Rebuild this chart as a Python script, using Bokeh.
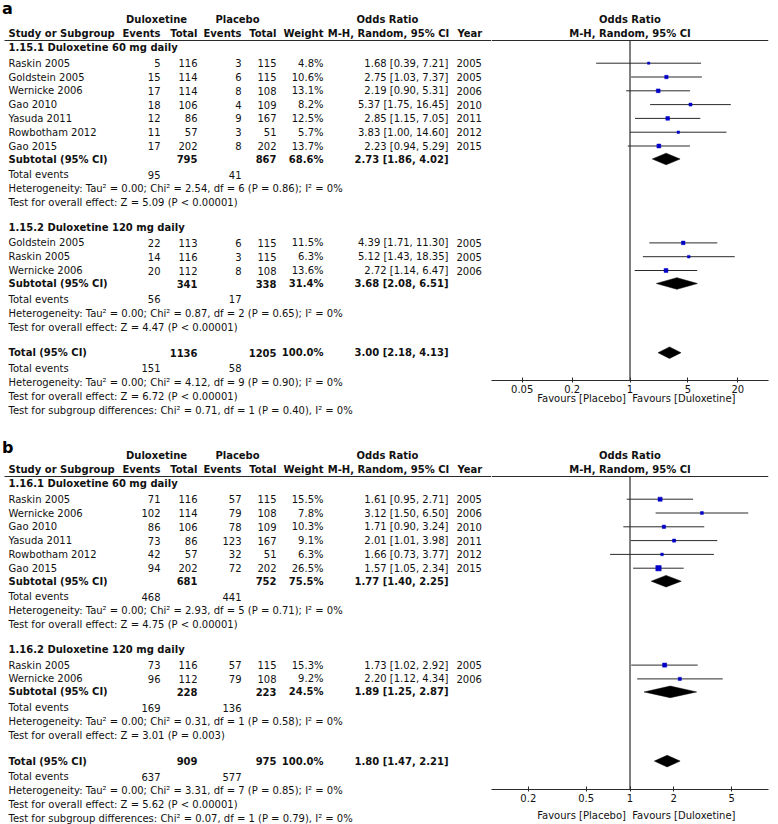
import math
from bokeh.plotting import figure
from bokeh.models import Range1d, ColumnDataSource, FixedTicker, Span
from bokeh.layouts import column, row
from bokeh.core.properties import value
from bokeh.embed import file_html
from bokeh.resources import INLINE

# ---------------- data: panel a ----------------
A1_TITLE = "1.15.1 Duloxetine 60 mg daily"
A1_STUDY = ["Raskin 2005", "Goldstein 2005", "Wernicke 2006", "Gao 2010", "Yasuda 2011", "Rowbotham 2012", "Gao 2015"]
A1_DUL_EV = [5, 15, 17, 18, 12, 11, 17]
A1_DUL_N = [116, 114, 114, 106, 86, 57, 202]
A1_PLA_EV = [3, 6, 8, 4, 9, 3, 8]
A1_PLA_N = [115, 115, 108, 109, 167, 51, 202]
A1_WEIGHT = [4.8, 10.6, 13.1, 8.2, 12.5, 5.7, 13.7]
A1_OR = [1.68, 2.75, 2.19, 5.37, 2.85, 3.83, 2.23]
A1_LO = [0.39, 1.03, 0.90, 1.75, 1.15, 1.00, 0.94]
A1_HI = [7.21, 7.37, 5.31, 16.45, 7.05, 14.60, 5.29]
A1_YEAR = [2005, 2005, 2006, 2010, 2011, 2012, 2015]
A1_SUB_N = [795, 867]
A1_SUB_WEIGHT = 68.6
A1_SUB_OR = [2.73, 1.86, 4.02]
A1_EVENTS = [95, 41]
A1_HET = "Heterogeneity: Tau² = 0.00; Chi² = 2.54, df = 6 (P = 0.86); I² = 0%"
A1_TEST = "Test for overall effect: Z = 5.09 (P < 0.00001)"

A2_TITLE = "1.15.2 Duloxetine 120 mg daily"
A2_STUDY = ["Goldstein 2005", "Raskin 2005", "Wernicke 2006"]
A2_DUL_EV = [22, 14, 20]
A2_DUL_N = [113, 116, 112]
A2_PLA_EV = [6, 3, 8]
A2_PLA_N = [115, 115, 108]
A2_WEIGHT = [11.5, 6.3, 13.6]
A2_OR = [4.39, 5.12, 2.72]
A2_LO = [1.71, 1.43, 1.14]
A2_HI = [11.30, 18.35, 6.47]
A2_YEAR = [2005, 2005, 2006]
A2_SUB_N = [341, 338]
A2_SUB_WEIGHT = 31.4
A2_SUB_OR = [3.68, 2.08, 6.51]
A2_EVENTS = [56, 17]
A2_HET = "Heterogeneity: Tau² = 0.00; Chi² = 0.87, df = 2 (P = 0.65); I² = 0%"
A2_TEST = "Test for overall effect: Z = 4.47 (P < 0.00001)"

A_TOT_N = [1136, 1205]
A_TOT_WEIGHT = 100.0
A_TOT_OR = [3.00, 2.18, 4.13]
A_TOT_EVENTS = [151, 58]
A_TOT_HET = "Heterogeneity: Tau² = 0.00; Chi² = 4.12, df = 9 (P = 0.90); I² = 0%"
A_TOT_TEST = "Test for overall effect: Z = 6.72 (P < 0.00001)"
A_SUBGROUP = "Test for subgroup differences: Chi² = 0.71, df = 1 (P = 0.40), I² = 0%"
A_TICKS = [0.05, 0.2, 1, 5, 20]
A_TICK_LABELS = ["0.05", "0.2", "1", "5", "20"]

# ---------------- data: panel b ----------------
B1_TITLE = "1.16.1 Duloxetine 60 mg daily"
B1_STUDY = ["Raskin 2005", "Wernicke 2006", "Gao 2010", "Yasuda 2011", "Rowbotham 2012", "Gao 2015"]
B1_DUL_EV = [71, 102, 86, 73, 42, 94]
B1_DUL_N = [116, 114, 106, 86, 57, 202]
B1_PLA_EV = [57, 79, 78, 123, 32, 72]
B1_PLA_N = [115, 108, 109, 167, 51, 202]
B1_WEIGHT = [15.5, 7.8, 10.3, 9.1, 6.3, 26.5]
B1_OR = [1.61, 3.12, 1.71, 2.01, 1.66, 1.57]
B1_LO = [0.95, 1.50, 0.90, 1.01, 0.73, 1.05]
B1_HI = [2.71, 6.50, 3.24, 3.98, 3.77, 2.34]
B1_YEAR = [2005, 2006, 2010, 2011, 2012, 2015]
B1_SUB_N = [681, 752]
B1_SUB_WEIGHT = 75.5
B1_SUB_OR = [1.77, 1.40, 2.25]
B1_EVENTS = [468, 441]
B1_HET = "Heterogeneity: Tau² = 0.00; Chi² = 2.93, df = 5 (P = 0.71); I² = 0%"
B1_TEST = "Test for overall effect: Z = 4.75 (P < 0.00001)"

B2_TITLE = "1.16.2 Duloxetine 120 mg daily"
B2_STUDY = ["Raskin 2005", "Wernicke 2006"]
B2_DUL_EV = [73, 96]
B2_DUL_N = [116, 112]
B2_PLA_EV = [57, 79]
B2_PLA_N = [115, 108]
B2_WEIGHT = [15.3, 9.2]
B2_OR = [1.73, 2.20]
B2_LO = [1.02, 1.12]
B2_HI = [2.92, 4.34]
B2_YEAR = [2005, 2006]
B2_SUB_N = [228, 223]
B2_SUB_WEIGHT = 24.5
B2_SUB_OR = [1.89, 1.25, 2.87]
B2_EVENTS = [169, 136]
B2_HET = "Heterogeneity: Tau² = 0.00; Chi² = 0.31, df = 1 (P = 0.58); I² = 0%"
B2_TEST = "Test for overall effect: Z = 3.01 (P = 0.003)"

B_TOT_N = [909, 975]
B_TOT_WEIGHT = 100.0
B_TOT_OR = [1.80, 1.47, 2.21]
B_TOT_EVENTS = [637, 577]
B_TOT_HET = "Heterogeneity: Tau² = 0.00; Chi² = 3.31, df = 7 (P = 0.85); I² = 0%"
B_TOT_TEST = "Test for overall effect: Z = 5.62 (P < 0.00001)"
B_SUBGROUP = "Test for subgroup differences: Chi² = 0.07, df = 1 (P = 0.79), I² = 0%"
B_TICKS = [0.2, 0.5, 1, 2, 5]
B_TICK_LABELS = ["0.2", "0.5", "1", "2", "5"]

LEFT_LABEL = "Favours [Placebo]"
RIGHT_LABEL = "Favours [Duloxetine]"

# ---------------- styling ----------------
FONT = "DejaVu Sans"
TEXT = "#111111"
LINE = "#2a2a2a"
BLUE = "#0000c8"
FS = "10px"
LEFT_W = 491
FRAME_W = 277
RIGHT_W = 285
X_STUDY, X_DEV, X_DN, X_PEV, X_PN, X_W, X_CI, X_YEAR = 8, 160, 197, 241, 276, 323, 448, 456
NB = "\u00a0"


def group(title, study, dev, dn, pev, pn, w, orr, lo, hi, yr, subn, subw, subor, ev, het, test):
    return dict(title=title, study=study, dev=dev, dn=dn, pev=pev, pn=pn, w=w, orr=orr, lo=lo,
                hi=hi, yr=yr, subn=subn, subw=subw, subor=subor, ev=ev, het=het, test=test)


def ci_text(o, l, h):
    return f"{o:.2f} [{l:.2f}, {h:.2f}]"


def no_align(p):
    try:
        p.frame_align = False
    except Exception:
        pass


def make_panel(letter, letter_y, groups, tot, ticks, tick_labels, half_decades, top, bottom,
               title1_y, fav_standoff):
    H = bottom - top
    texts = {}

    def add(x, y, t, align="left", bold=False):
        texts.setdefault((align, bold), []).append((x, y, t))

    head1 = title1_y - 28
    head2 = title1_y - 14
    line_y = title1_y - 7
    y = title1_y
    study_rows = []
    diamonds = []
    for gi, g in enumerate(groups):
        if gi > 0:
            y += 24.5
        add(X_STUDY, y, g["title"], bold=True)
        y += 15.7
        for i in range(len(g["study"])):
            if i > 0:
                y += 13.8
            add(X_STUDY, y, g["study"][i])
            add(X_DEV, y, str(g["dev"][i]), "right")
            add(X_DN, y, str(g["dn"][i]), "right")
            add(X_PEV, y, str(g["pev"][i]), "right")
            add(X_PN, y, str(g["pn"][i]), "right")
            add(X_W, y, f"{g['w'][i]:.1f}%", "right")
            add(X_CI, y, ci_text(g["orr"][i], g["lo"][i], g["hi"][i]), "right")
            add(X_YEAR, y, str(g["yr"][i]))
            study_rows.append((y, g["orr"][i], g["lo"][i], g["hi"][i], g["w"][i]))
        y += 13
        add(X_STUDY, y, "Subtotal (95% CI)", bold=True)
        add(X_DN, y, str(g["subn"][0]), "right", True)
        add(X_PN, y, str(g["subn"][1]), "right", True)
        add(X_W, y, f"{g['subw']:.1f}%", "right", True)
        add(X_CI, y, ci_text(*g["subor"]), "right", True)
        diamonds.append((y, *g["subor"]))
        y += 15.7
        add(X_STUDY, y, "Total events")
        add(X_DEV, y, str(g["ev"][0]), "right")
        add(X_PEV, y, str(g["ev"][1]), "right")
        y += 14
        add(X_STUDY, y, g["het"])
        y += 14
        add(X_STUDY, y, g["test"])
    y += 25.5
    total_y = y
    add(X_STUDY, y, "Total (95% CI)", bold=True)
    add(X_DN, y, str(tot["n"][0]), "right", True)
    add(X_PN, y, str(tot["n"][1]), "right", True)
    add(X_W, y, f"{tot['w']:.1f}%", "right", True)
    add(X_CI, y, ci_text(*tot["or"]), "right", True)
    diamonds.append((y, *tot["or"]))
    y += 15.7
    add(X_STUDY, y, "Total events")
    add(X_DEV, y, str(tot["ev"][0]), "right")
    add(X_PEV, y, str(tot["ev"][1]), "right")
    y += 14
    add(X_STUDY, y, tot["het"])
    y += 14
    add(X_STUDY, y, tot["test"])
    y += 13.7
    add(X_STUDY, y, tot["subgroup"])

    # headers
    add(156, head1, "Duloxetine", "center", True)
    add(237, head1, "Placebo", "center", True)
    add(387, head1, "Odds Ratio", "center", True)
    add(X_STUDY, head2, "Study or Subgroup", "left", True)
    add(X_DEV, head2, "Events", "right", True)
    add(X_DN, head2, "Total", "right", True)
    add(X_PEV, head2, "Events", "right", True)
    add(X_PN, head2, "Total", "right", True)
    add(X_W, head2, "Weight", "right", True)
    add(388, head2, "M-H, Random, 95% CI", "center", True)
    add(457, head2, "Year", "left", True)

    # ---- left (table) figure ----
    L = figure(width=LEFT_W, height=H, x_range=Range1d(0, LEFT_W), y_range=Range1d(bottom, top),
               output_backend="svg", toolbar_location=None, min_border=0,
               x_axis_location=None, y_axis_location=None)
    no_align(L)
    L.outline_line_color = None
    L.grid.visible = False
    for (align, bold), items in texts.items():
        src = ColumnDataSource(dict(x=[i[0] for i in items], y=[i[1] for i in items], text=[i[2] for i in items]))
        L.text(x="x", y="y", text="text", source=src, text_align=align, text_baseline="middle",
               text_font=value(FONT), text_font_size=FS, text_font_style="bold" if bold else "normal",
               text_color=TEXT)
    L.text(x=[1.5], y=[letter_y], text=[letter], text_align="left", text_baseline="middle",
           text_font=value(FONT), text_font_size="16px", text_font_style="bold", text_color="#000000")
    L.segment(x0=[4], y0=[line_y], x1=[LEFT_W], y1=[line_y], line_color=LINE, line_width=1.2)

    # ---- right (forest) figure ----
    axis_y = round(total_y + 28.3)
    frame_h = axis_y - top
    R = figure(width=RIGHT_W, height=H, x_axis_type="log",
               x_range=Range1d(10 ** (-half_decades), 10 ** half_decades),
               y_range=Range1d(axis_y, top), output_backend="svg", toolbar_location=None,
               min_border=0, min_border_bottom=H - frame_h, min_border_right=RIGHT_W - FRAME_W,
               y_axis_location=None)
    no_align(R)
    R.outline_line_color = None
    R.grid.visible = False
    R.add_layout(Span(location=line_y, dimension="width", line_color=LINE, line_width=1.2))
    R.segment(x0=[1], y0=[line_y], x1=[1], y1=[axis_y], line_color="#000000", line_width=1)
    hsrc = ColumnDataSource(dict(x=[1, 1], y=[head1, head2], text=["Odds Ratio", "M-H, Random, 95% CI"]))
    R.text(x="x", y="y", text="text", source=hsrc, text_align="center", text_baseline="middle",
           text_font=value(FONT), text_font_size=FS, text_font_style="bold", text_color=TEXT)
    ssrc = ColumnDataSource(dict(y=[r[0] for r in study_rows], orr=[r[1] for r in study_rows],
                                 lo=[r[2] for r in study_rows], hi=[r[3] for r in study_rows],
                                 size=[math.sqrt(r[4]) * 1.05 for r in study_rows]))
    R.segment(x0="lo", y0="y", x1="hi", y1="y", source=ssrc, line_color=LINE, line_width=1)
    R.scatter(x="orr", y="y", size="size", marker="square", source=ssrc, fill_color=BLUE,
              line_color=BLUE, line_width=0.5)
    dh = 5.8
    R.patches(xs=[[d[2], d[1], d[3], d[1]] for d in diamonds],
              ys=[[d[0], d[0] - dh, d[0], d[0] + dh] for d in diamonds],
              fill_color="#000000", line_color="#000000", line_width=0.5)
    ax = R.xaxis[0]
    ax.ticker = FixedTicker(ticks=ticks, minor_ticks=[])
    ax.major_label_overrides = {float(t): lab for t, lab in zip(ticks, tick_labels)}
    ax.axis_line_color = LINE
    ax.major_tick_line_color = LINE
    ax.minor_tick_line_color = None
    ax.major_tick_in = 3
    ax.major_tick_out = 2
    ax.major_label_standoff = 2
    ax.major_label_text_font = FONT
    ax.major_label_text_font_size = FS
    ax.major_label_text_color = TEXT
    # favours labels, split at the line of no effect (centre of the symmetric log axis)
    ax.axis_label = NB * 4 + LEFT_LABEL + NB * 2 + RIGHT_LABEL
    ax.axis_label_text_font = FONT
    ax.axis_label_text_font_size = FS
    ax.axis_label_text_font_style = "normal"
    ax.axis_label_text_color = TEXT
    ax.axis_label_standoff = fav_standoff
    return row(L, R, spacing=0)


groups_a = [
    group(A1_TITLE, A1_STUDY, A1_DUL_EV, A1_DUL_N, A1_PLA_EV, A1_PLA_N, A1_WEIGHT, A1_OR, A1_LO, A1_HI,
          A1_YEAR, A1_SUB_N, A1_SUB_WEIGHT, A1_SUB_OR, A1_EVENTS, A1_HET, A1_TEST),
    group(A2_TITLE, A2_STUDY, A2_DUL_EV, A2_DUL_N, A2_PLA_EV, A2_PLA_N, A2_WEIGHT, A2_OR, A2_LO, A2_HI,
          A2_YEAR, A2_SUB_N, A2_SUB_WEIGHT, A2_SUB_OR, A2_EVENTS, A2_HET, A2_TEST),
]
tot_a = dict(n=A_TOT_N, w=A_TOT_WEIGHT, ev=A_TOT_EVENTS, het=A_TOT_HET, test=A_TOT_TEST,
             subgroup=A_SUBGROUP)
tot_a["or"] = A_TOT_OR
groups_b = [
    group(B1_TITLE, B1_STUDY, B1_DUL_EV, B1_DUL_N, B1_PLA_EV, B1_PLA_N, B1_WEIGHT, B1_OR, B1_LO, B1_HI,
          B1_YEAR, B1_SUB_N, B1_SUB_WEIGHT, B1_SUB_OR, B1_EVENTS, B1_HET, B1_TEST),
    group(B2_TITLE, B2_STUDY, B2_DUL_EV, B2_DUL_N, B2_PLA_EV, B2_PLA_N, B2_WEIGHT, B2_OR, B2_LO, B2_HI,
          B2_YEAR, B2_SUB_N, B2_SUB_WEIGHT, B2_SUB_OR, B2_EVENTS, B2_HET, B2_TEST),
]
tot_b = dict(n=B_TOT_N, w=B_TOT_WEIGHT, ev=B_TOT_EVENTS, het=B_TOT_HET, test=B_TOT_TEST,
             subgroup=B_SUBGROUP)
tot_b["or"] = B_TOT_OR

panel_a = make_panel("a", 7.5, groups_a, tot_a, A_TICKS, A_TICK_LABELS, 1.6715, 0, 422, 47, -3)
panel_b = make_panel("b", 447, groups_b, tot_b, B_TICKS, B_TICK_LABELS, 0.952, 422, 824, 483, 5)

layout = column(panel_a, panel_b, spacing=0)
open("out.html", "w").write(file_html(layout, INLINE, title="Forest plots"))
